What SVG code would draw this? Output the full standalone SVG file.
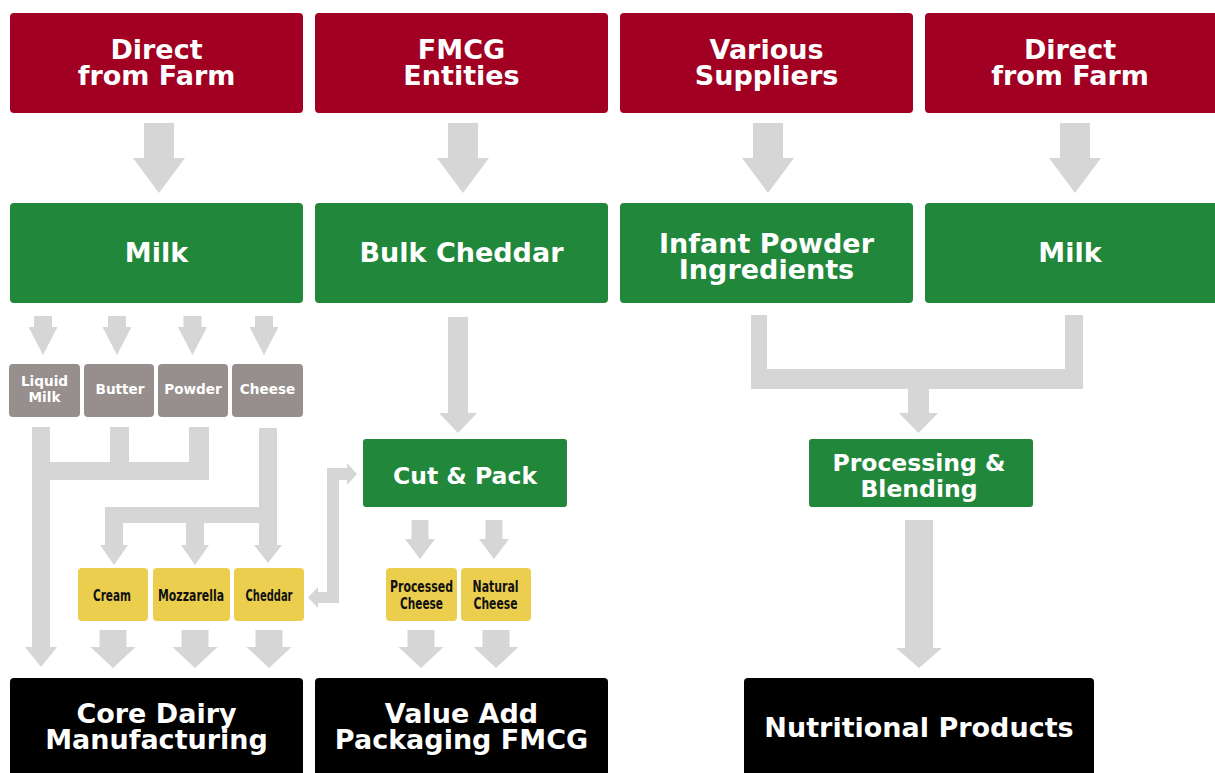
<svg xmlns="http://www.w3.org/2000/svg" width="1215" height="773" viewBox="0 0 1215 773">
<style>
.red{fill:#A10022}
.grn{fill:#21873B}
.gry{fill:#968F8E}
.yel{fill:#EBCE4E}
.blk{fill:#000}
.con{fill:#D6D6D6}
text{font-family:"DejaVu Sans","Liberation Sans",sans-serif;font-weight:bold;text-anchor:middle;fill:#fff}
.big{font-size:27px}
.mid{font-size:23.5px}
.sm{font-size:13.6px}
.ylt{font-family:"DejaVu Sans Condensed","DejaVu Sans",sans-serif;font-size:15.5px;fill:#111}
</style>
<rect width="1215" height="773" fill="#fff"/>

<g id="connectors" class="con">
  <!-- top arrows -->
  <path d="M144,123H174V158H185L159,193L133,158H144Z"/>
  <path d="M448,123H478V158H489L463,193L437,158H448Z"/>
  <path d="M753,123H783V158H794L768,193L742,158H753Z"/>
  <path d="M1060,123H1090V158H1101L1075,193L1049,158H1060Z"/>
  <!-- milk to gray boxes -->
  <path d="M34,316H52V327H57.5L43,355L28.5,327H34Z"/>
  <path d="M108,316H126V327H131.5L117,355L102.5,327H108Z"/>
  <path d="M183.5,316H201.5V327H207L192.5,355L178,327H183.5Z"/>
  <path d="M255,316H273V327H278.5L264,355L249.5,327H255Z"/>
  <!-- liquid milk / butter / powder -->
  <path d="M32,427H50V462H110V427H129V462H189V427H209V480H50V647H57L41,667L25,647H32Z"/>
  <!-- cheese branch -->
  <path d="M259,428H277V545H282L268,563L254,545H259V523H204V545H209L195,565L181,545H186V523H123V545H128L114,565L100,545H105V507H259Z"/>
  <!-- yellow to black -->
  <path d="M99.5,630H126.5V647H135.5L113,668L90.5,647H99.5Z"/>
  <path d="M181.5,630H208.5V647H217.5L195,668L172.5,647H181.5Z"/>
  <path d="M255.5,630H282.5V647H291.5L269,668L246.5,647H255.5Z"/>
  <!-- bulk cheddar to cut & pack -->
  <path d="M448,317H468V413H477L458,433L439,413H448Z"/>
  <!-- cheddar <-> cut & pack -->
  <path d="M327,468H347V463L357,474L347,485V480H339V603H318V608L308,597.5L318,587V592H327Z"/>
  <!-- cut & pack to yellow -->
  <path d="M411.5,520H428.5V539H435L420,559L405,539H411.5Z"/>
  <path d="M485.5,520H502.5V539H509L494,559L479,539H485.5Z"/>
  <path d="M407.5,630H434.5V647H443.5L421,668L398.5,647H407.5Z"/>
  <path d="M482.5,630H509.5V647H518.5L496,668L473.5,647H482.5Z"/>
  <!-- right merge -->
  <path d="M751,315H767V369H1065V315H1083V389H929V413H938L918.5,433L899,413H908V389H751Z"/>
  <path d="M905,520H933V648H942L919,668L896,648H905Z"/>
</g>

<g id="src1"><rect class="red" x="10" y="13" width="293" height="100" rx="4"/><text class="big" x="156.5" y="58.5">Direct</text><text class="big" x="156.5" y="84.5">from Farm</text></g>
<g id="src2"><rect class="red" x="315" y="13" width="293" height="100" rx="4"/><text class="big" x="461.5" y="58.5">FMCG</text><text class="big" x="461.5" y="84.5">Entities</text></g>
<g id="src3"><rect class="red" x="620" y="13" width="293" height="100" rx="4"/><text class="big" x="766.5" y="58.5">Various</text><text class="big" x="766.5" y="84.5">Suppliers</text></g>
<g id="src4"><rect class="red" x="925" y="13" width="296" height="100" rx="4"/><text class="big" x="1070" y="58.5">Direct</text><text class="big" x="1070" y="84.5">from Farm</text></g>

<g id="milk1"><rect class="grn" x="10" y="203" width="293" height="100" rx="4"/><text class="big" x="156.5" y="262">Milk</text></g>
<g id="bulk"><rect class="grn" x="315" y="203" width="293" height="100" rx="4"/><text class="big" x="461.5" y="262">Bulk Cheddar</text></g>
<g id="infant"><rect class="grn" x="620" y="203" width="293" height="100" rx="4"/><text class="big" x="766.5" y="253">Infant Powder</text><text class="big" x="766.5" y="279">Ingredients</text></g>
<g id="milk2"><rect class="grn" x="925" y="203" width="296" height="100" rx="4"/><text class="big" x="1070" y="262">Milk</text></g>

<g id="liquid"><rect class="gry" x="9" y="364" width="71" height="53" rx="4"/><text class="sm" x="44.5" y="386">Liquid</text><text class="sm" x="44.5" y="402">Milk</text></g>
<g id="butter"><rect class="gry" x="84" y="364" width="70" height="53" rx="4"/><text class="sm" x="120" y="394">Butter</text></g>
<g id="powder"><rect class="gry" x="158" y="364" width="70" height="53" rx="4"/><text class="sm" x="193" y="394">Powder</text></g>
<g id="cheese"><rect class="gry" x="232" y="364" width="71" height="53" rx="4"/><text class="sm" x="267.5" y="394">Cheese</text></g>

<g id="cream"><rect class="yel" x="78" y="568" width="70" height="53" rx="4"/><text class="ylt" x="112" y="601" textLength="38" lengthAdjust="spacingAndGlyphs">Cream</text></g>
<g id="mozz"><rect class="yel" x="153" y="568" width="77" height="53" rx="4"/><text class="ylt" x="191" y="601" textLength="66" lengthAdjust="spacingAndGlyphs">Mozzarella</text></g>
<g id="cheddar"><rect class="yel" x="234" y="568" width="70" height="53" rx="4"/><text class="ylt" x="269" y="601" textLength="47" lengthAdjust="spacingAndGlyphs">Cheddar</text></g>

<g id="cutpack"><rect class="grn" x="363" y="439" width="204" height="68" rx="3"/><text class="mid" x="465" y="484">Cut &amp; Pack</text></g>
<g id="processed"><rect class="yel" x="386" y="568" width="71" height="53" rx="4"/><text class="ylt" x="421.5" y="592" textLength="63" lengthAdjust="spacingAndGlyphs">Processed</text><text class="ylt" x="421.5" y="609" textLength="43" lengthAdjust="spacingAndGlyphs">Cheese</text></g>
<g id="natural"><rect class="yel" x="461" y="568" width="70" height="53" rx="4"/><text class="ylt" x="495.5" y="592" textLength="46" lengthAdjust="spacingAndGlyphs">Natural</text><text class="ylt" x="495.5" y="609" textLength="44" lengthAdjust="spacingAndGlyphs">Cheese</text></g>

<g id="procblend"><rect class="grn" x="809" y="439" width="224" height="68" rx="3"/><text class="mid" x="919" y="471">Processing &amp;</text><text class="mid" x="919" y="497">Blending</text></g>

<g id="core"><rect class="blk" x="10" y="678" width="293" height="105" rx="4"/><text class="big" x="156.5" y="722.5">Core Dairy</text><text class="big" x="156.5" y="748.5">Manufacturing</text></g>
<g id="valueadd"><rect class="blk" x="315" y="678" width="293" height="105" rx="4"/><text class="big" x="461.5" y="722.5">Value Add</text><text class="big" x="461.5" y="748.5">Packaging FMCG</text></g>
<g id="nutri"><rect class="blk" x="744" y="678" width="350" height="105" rx="4"/><text class="big" x="919" y="737">Nutritional Products</text></g>
</svg>
